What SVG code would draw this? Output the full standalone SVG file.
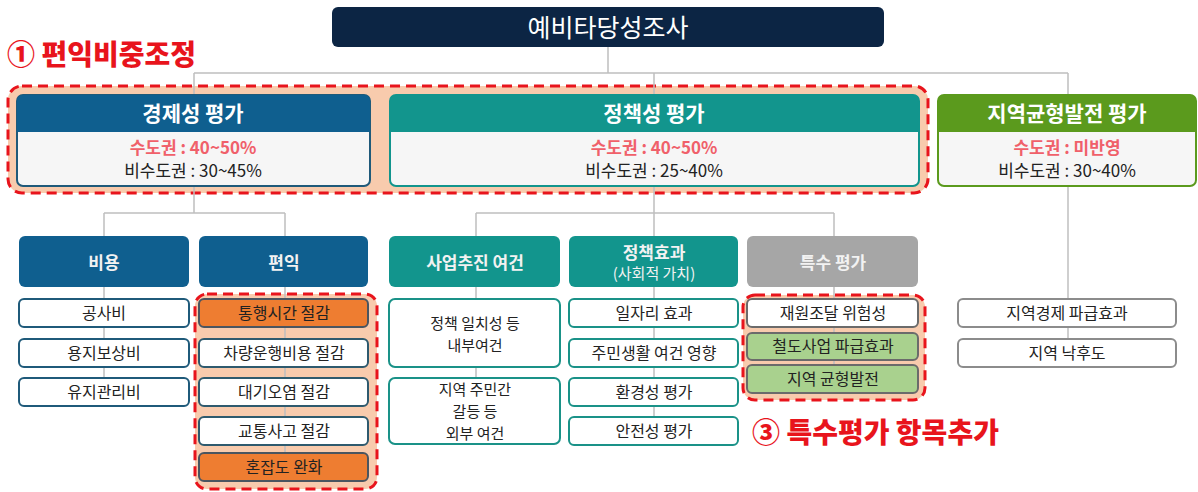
<svg xmlns="http://www.w3.org/2000/svg" width="1198" height="492" viewBox="0 0 1198 492">
<style>
text{font-family:"Noto Sans CJK KR","Noto Sans",sans-serif;text-anchor:middle}
.region{fill:#f8cbad;stroke:#e8141c;stroke-width:3;stroke-dasharray:10 6}
.conn{stroke:#bfbfbf;stroke-width:1.5;fill:none}
.hdr{fill:#fff;font-size:21px;font-weight:bold}
.cap{fill:#f2f2f2;font-size:17px;font-weight:bold}
.red{fill:#f0606a;font-size:17px;font-weight:bold}
.blk{fill:#222;font-size:17px}
.it{fill:#222;font-size:16px}
.it2{fill:#222;font-size:15px}
.note{fill:#e8141c;font-size:28px;font-weight:900;text-anchor:start}
.body{fill:#f6f6f6;stroke-width:2}
.item{fill:#fff;stroke-width:2}
</style>
<rect class="region" x="8" y="86" width="920" height="107" rx="14"/>
<rect class="region" x="195" y="294" width="182" height="195" rx="12"/>
<rect class="region" x="743" y="295" width="182" height="105" rx="12"/>
<g id="connectors" class="conn">
<path d="M608 47V73M194 73H1068M194 73V95M654 73V95M1068 73V95"/>
<path d="M194 186V213M104 213H285M104 213V236M285 213V236"/>
<path d="M654 186V236M476 213H834M476 213V236M834 213V236"/>
<path d="M1068 186V339"/>
<path d="M104 287V378M285 287V453M476 287V378M654 287V417M834 287V365"/>
</g>
<g id="root">
<rect x="332" y="7" width="552" height="40" rx="6" fill="#0c2544"/>
<text x="608" y="36.5" fill="#fff" font-size="25">예비타당성조사</text>
</g>
<text class="note" x="7" y="65">① 편익비중조정</text>
<g id="econ">
<rect class="body" x="17" y="95" width="353" height="91" rx="6" stroke="#1f5a7a"/>
<path d="M17 132V101Q17 95 23 95H364Q370 95 370 101V132Z" fill="#0f5f8f"/>
<text class="hdr" x="193" y="121">경제성 평가</text>
<text class="red" x="193" y="154">수도권 : 40~50%</text>
<text class="blk" x="193" y="177">비수도권 : 30~45%</text>
</g>
<g id="policy">
<rect class="body" x="390" y="95" width="529" height="91" rx="6" stroke="#12958d"/>
<path d="M390 132V101Q390 95 396 95H913Q919 95 919 101V132Z" fill="#12958d"/>
<text class="hdr" x="654" y="121">정책성 평가</text>
<text class="red" x="654" y="154">수도권 : 40~50%</text>
<text class="blk" x="654" y="177">비수도권 : 25~40%</text>
</g>
<g id="regional">
<rect class="body" x="938" y="95" width="258" height="91" rx="6" stroke="#5b9a1d"/>
<path d="M938 132V101Q938 95 944 95H1190Q1196 95 1196 101V132Z" fill="#5b9a1d"/>
<text class="hdr" x="1067" y="121">지역균형발전 평가</text>
<text class="red" x="1067" y="154">수도권 : 미반영</text>
<text class="blk" x="1067" y="177">비수도권 : 30~40%</text>
</g>
<g id="cost">
<rect x="19" y="236" width="170" height="51" rx="6" fill="#0f5f8f"/>
<text class="cap" x="104" y="269">비용</text>
</g>
<g id="benefit">
<rect x="199" y="236" width="169" height="51" rx="6" fill="#0f5f8f"/>
<text class="cap" x="284" y="269">편익</text>
</g>
<g id="condition">
<rect x="389" y="236" width="171" height="51" rx="6" fill="#12958d"/>
<text class="cap" x="475" y="269">사업추진 여건</text>
</g>
<g id="effect">
<rect x="569" y="236" width="169" height="51" rx="6" fill="#12958d"/>
<text class="cap" x="654" y="259">정책효과</text>
<text x="654" y="279" fill="#f2f2f2" font-size="15">(사회적 가치)</text>
</g>
<g id="special">
<rect x="747" y="236" width="171" height="51" rx="6" fill="#a6a6a6"/>
<text class="cap" x="833" y="269" fill="#e8e8e8">특수 평가</text>
</g>
<g id="cost-items">
<g id="c1"><rect class="item" x="19" y="299" width="170" height="28" rx="5" stroke="#1f5a7a"/><text class="it" x="104" y="319">공사비</text></g>
<g id="c2"><rect class="item" x="19" y="339" width="170" height="28" rx="5" stroke="#1f5a7a"/><text class="it" x="104" y="359">용지보상비</text></g>
<g id="c3"><rect class="item" x="19" y="378" width="170" height="28" rx="5" stroke="#1f5a7a"/><text class="it" x="104" y="398">유지관리비</text></g>
</g>
<g id="benefit-items">
<g id="b1"><rect class="item" x="199" y="299" width="169" height="28" rx="5" stroke="#4a5560" style="fill:#ee7d31"/><text class="it" x="284" y="319">통행시간 절감</text></g>
<g id="b2"><rect class="item" x="199" y="339" width="169" height="28" rx="5" stroke="#2e5a6e"/><text class="it" x="284" y="359">차량운행비용 절감</text></g>
<g id="b3"><rect class="item" x="199" y="378" width="169" height="28" rx="5" stroke="#2e5a6e"/><text class="it" x="284" y="398">대기오염 절감</text></g>
<g id="b4"><rect class="item" x="199" y="417" width="169" height="28" rx="5" stroke="#2e5a6e"/><text class="it" x="284" y="437">교통사고 절감</text></g>
<g id="b5"><rect class="item" x="199" y="453" width="169" height="28" rx="5" stroke="#4a5560" style="fill:#ee7d31"/><text class="it" x="284" y="473">혼잡도 완화</text></g>
</g>
<g id="condition-items">
<g id="p1"><rect class="item" x="389" y="299" width="171" height="68" rx="6" stroke="#1a9288"/><text class="it2" x="475" y="329">정책 일치성 등</text><text class="it2" x="475" y="351">내부여건</text></g>
<g id="p2"><rect class="item" x="389" y="378" width="171" height="66" rx="6" stroke="#1a9288"/><text class="it2" x="475" y="395">지역 주민간</text><text class="it2" x="475" y="417">갈등 등</text><text class="it2" x="475" y="439">외부 여건</text></g>
</g>
<g id="effect-items">
<g id="e1"><rect class="item" x="569" y="299" width="169" height="28" rx="5" stroke="#1a9288"/><text class="it" x="654" y="319">일자리 효과</text></g>
<g id="e2"><rect class="item" x="569" y="339" width="169" height="28" rx="5" stroke="#1a9288"/><text class="it" x="654" y="359">주민생활 여건 영향</text></g>
<g id="e3"><rect class="item" x="569" y="378" width="169" height="28" rx="5" stroke="#1a9288"/><text class="it" x="654" y="398">환경성 평가</text></g>
<g id="e4"><rect class="item" x="569" y="417" width="169" height="28" rx="5" stroke="#1a9288"/><text class="it" x="654" y="437">안전성 평가</text></g>
</g>
<g id="special-items">
<g id="s1"><rect class="item" x="747" y="299" width="171" height="28" rx="5" stroke="#6b6b6b"/><text class="it" x="833" y="319">재원조달 위험성</text></g>
<g id="s2"><rect class="item" x="747" y="333" width="171" height="27" rx="5" stroke="#6b6b6b" style="fill:#a9d18e"/><text class="it" x="833" y="352">철도사업 파급효과</text></g>
<g id="s3"><rect class="item" x="747" y="365" width="171" height="28" rx="5" stroke="#6b6b6b" style="fill:#a9d18e"/><text class="it" x="833" y="385">지역 균형발전</text></g>
</g>
<g id="regional-items">
<g id="r1"><rect class="item" x="958" y="299" width="218" height="28" rx="5" stroke="#8c8c8c"/><text class="it" x="1067" y="319">지역경제 파급효과</text></g>
<g id="r2"><rect class="item" x="958" y="339" width="218" height="28" rx="5" stroke="#8c8c8c"/><text class="it" x="1067" y="359">지역 낙후도</text></g>
</g>
<text class="note" x="752" y="443">③ 특수평가 항목추가</text>
</svg>
